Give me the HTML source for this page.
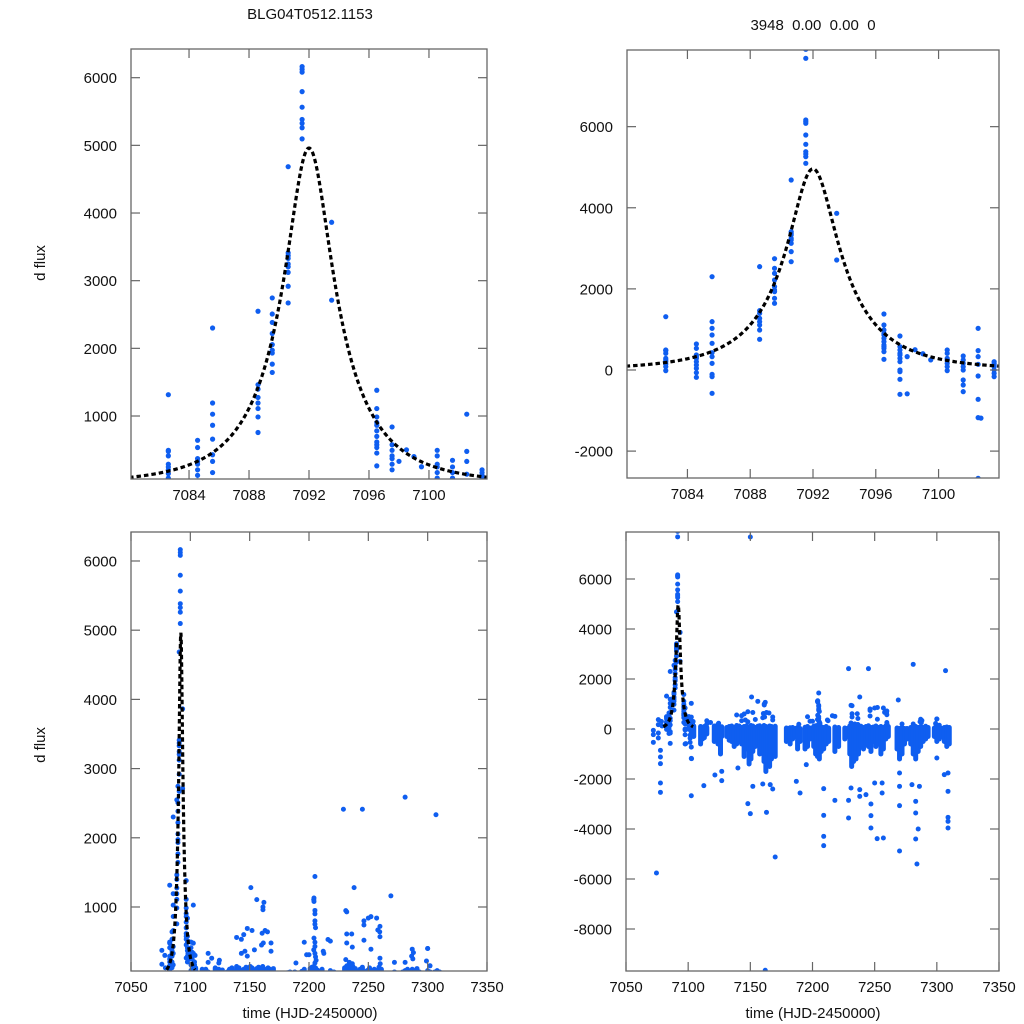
<!DOCTYPE html>
<html><head><meta charset="utf-8">
<style>
html,body{margin:0;padding:0;background:#fff;width:1024px;height:1024px;overflow:hidden;}
svg{display:block;font-family:"Liberation Sans",Arial,sans-serif;}
</style></head>
<body>
<svg id="c" width="1024" height="1024" viewBox="0 0 1024 1024" xmlns="http://www.w3.org/2000/svg">
<rect width="1024" height="1024" fill="#fff"/>
<text x="310" y="19" font-size="15" text-anchor="middle" fill="#111">BLG04T0512.1153</text>
<text x="813" y="30" font-size="15" text-anchor="middle" fill="#111" xml:space="preserve">3948  0.00  0.00  0</text>
<text x="0" y="0" font-size="15" text-anchor="middle" fill="#111" transform="translate(45,263) rotate(-90)">d flux</text>
<text x="0" y="0" font-size="15" text-anchor="middle" fill="#111" transform="translate(45,745) rotate(-90)">d flux</text>
<text x="310" y="1018" font-size="15" text-anchor="middle" fill="#111">time (HJD-2450000)</text>
<text x="813" y="1018" font-size="15" text-anchor="middle" fill="#111">time (HJD-2450000)</text>
</svg>
<script>
// ---- data ----
const peakT = [7082.62,7082.62,7082.62,7082.62,7082.62,7082.62,7082.62,7082.62,7082.62,7082.62,
7084.57,7084.57,7084.57,7084.57,7084.57,7084.57,7084.57,7084.57,7084.57,7084.57,
7085.57,7085.57,7085.57,7085.57,7085.57,7085.57,7085.57,7085.57,7085.57,7085.57,7085.57,
7088.6,7088.6,7088.6,7088.6,7088.6,7088.6,7088.6,7088.6,
7089.55,7089.55,7089.55,7089.55,7089.55,7089.55,7089.55,7089.55,7089.55,
7090.61,7090.61,7090.61,7090.61,7090.61,7090.61,7090.61,7090.61,7090.61,
7091.54,7091.54,7091.54,7091.54,7091.54,7091.54,7091.54,7091.54,7091.54,7091.54,7091.54,
7093.51,7093.51,
7096.52,7096.52,7096.52,7096.52,7096.52,7096.52,7096.52,7096.52,7096.52,7096.52,7096.52,7096.52,
7097.54,7097.54,7097.54,7097.54,7097.54,7097.54,7097.54,7097.54,7097.54,7097.54,7097.54,
7100.55,7100.55,7100.55,7100.55,7100.55,7100.55,7100.55,
7101.57,7101.57,7101.57,7101.57,7101.57,7101.57,7101.57,7101.57,
7102.52,7102.52,7102.52,7102.52,7102.52,7102.52,7102.52,7102.52,
7103.54,7103.54,7103.54,7103.54,7103.54,7103.54,7103.54];
const peakF = [1315,477,411,288,205,148,82,-16,493,247,
641,534,370,288,205,123,41,-66,-181,329,
2301,1192,1027,863,658,427,329,164,-107,-164,-575,
2548,1463,1397,1274,1192,1110,986,756,
2745,2507,2383,2219,2055,1931,1767,1644,1973,
4685,3411,3329,3247,3123,2918,2671,3370,3206,
7907,7685,6164,6082,5794,5564,5383,5260,5096,6123,5326,
3863,2712,
1381,1110,986,863,781,699,616,534,452,263,904,575,
838,575,493,411,288,205,0,-41,-230,-600,370,
493,411,288,164,82,-16,247,
345,247,164,82,0,-247,-370,-534,
1027,477,329,140,-148,-723,-1175,-2671,
205,123,82,0,-82,-164,164];
const otherT = [7072,7072,7072,7074.5,7076,7076,7076,7076,7077.7,7077.7,7077.7,7077.7,7077.7,7078.5,7079,
7098,7102.7,7112.6,7121.5,7127,7127,
7150,7151,7143,7156,7162,7165,7205,7204,7218,7229,7245,7238,7231,7250,7257,7258,7269,7281,7307,7300,
7148,7150,7140,7152,7160,7163,7166,7170,7168,7162,7166,7187,7190,7195,7209,7209,7209,7209,7218,7229,7229,7231,7238,7238,7243,7247,7247,7247,7250,7252,7257,7256,7256,7270,7270,7270,7270,7280,7283,7284,7285,7286,7283,7283,7309,7309,7309,7309,7309,7306,7300,
7161.2,7161.2,7204.2,7204.2,7205,7205,7205,7205,7205.5,7204.2,7205,7205,7204,7205,7205.5,7206,7205,
7231.8,7231.8,7236,7231.8,7236.5,7231,7234,7236.5,7232,7235,7246.3,7246.3,7252.2,7246.3,7252.2,7259.8,7259.8,7259.6,7259.8,7260,7272,
7287,7288,7286.5,7287.5,7300,7299,7302,7281,
7139,7145,7152,7160.5,7163,7148,7146,7143,7148,7154,7160,7161.5,7168,7168,
7115,7118,7104,7115,7124,7124.5,7196,7198,7200,7189,7216,7212,7212.5,
7098.5,7099,7098,7099.5];
const otherF = [-53,-227,-533,-5760,373,173,-160,-360,-853,-1120,-1387,-2160,-2533,300,120,
-587,-1187,-2267,-1840,-1693,-2067,
7680,1280,533,1107,1067,640,1440,1107,507,2413,2413,1280,947,840,840,667,1160,2587,2333,400,
-2987,-3387,-1560,-2293,-2200,-3333,-2227,-5120,-2400,-9650,-1093,-2093,-2560,-1427,-3453,-4293,-4667,-2387,-2853,-2853,-3560,-2360,-2693,-2427,-2627,-3000,-3467,-3960,-2160,-4387,-4360,-2560,-2160,-4880,-3067,-2293,-1760,-2227,-4400,-5400,-4000,-2293,-2893,-3360,-3533,-3693,-3960,-2493,-1760,-1827,-1160,
1000,960,1130,1080,950,900,800,750,700,550,490,430,380,330,280,230,190,
930,610,610,480,420,240,200,180,150,170,800,740,860,520,390,720,570,640,260,180,200,
390,340,290,250,400,220,150,200,
560,600,660,620,660,690,360,330,290,380,450,480,480,360,
330,260,300,200,190,230,490,310,310,190,530,360,330,
500,400,330,250];
const nightT  = [7104.5,7110,7111.5,7113,7115,7121,7122.5,7124,7126,7127,7131,7133,7135,7137,7139,7141,7143,7145,7147,7149,7150.5,7152,7154,7156,7157.5,7159,7161,7162.5,7164,7165.5,7167,7168.5,7170,7179,7180.5,7182,7184,7186,7188,7190,7194,7196,7198,7201,7202.5,7204,7205.5,7207,7209,7211,7213,7218,7221,7226,7228,7230,7231.5,7233,7235,7237,7239,7241,7243,7245,7247,7249,7251,7253,7255,7257,7259,7261,7268,7270,7272,7274,7276,7279,7281,7283,7285,7287,7289,7291,7293,7298,7300,7302,7304,7306,7308,7310];
const nightHi = [120,100,60,100,60,120,60,100,60,90,60,100,120,60,140,120,60,100,130,60,140,120,60,110,130,60,140,100,60,120,100,60,110,40,20,50,60,20,60,20,70,100,40,110,130,140,120,90,60,100,40,80,60,40,20,120,140,60,120,140,110,60,100,130,60,80,120,60,100,60,130,100,40,20,60,20,20,60,80,100,60,100,60,110,60,40,80,60,20,60,80,60];
const nightLo = [-300,-600,-400,-350,-200,-500,-400,-600,-1000,-300,-300,-450,-500,-700,-600,-500,-600,-1100,-800,-1400,-1200,-900,-700,-600,-1000,-800,-1300,-1700,-1000,-1500,-1200,-900,-1100,-500,-300,-600,-400,-300,-800,-500,-800,-700,-400,-700,-1000,-1100,-1200,-900,-800,-600,-500,-900,-700,-400,-300,-1000,-1500,-1300,-1200,-1000,-700,-800,-600,-700,-900,-500,-700,-600,-1000,-800,-400,-300,-800,-1200,-1000,-600,-400,-600,-1000,-1200,-900,-700,-500,-400,-300,-300,-500,-400,-300,-500,-700,-600];
// microlensing model parameters: t0, u0, tE, source flux
const modelParams = [7092.0, 0.3, 5.5, 2029];
const modelRange = [7080.0, 7104.0];

const panels = [
 {id:'top-left', l:131,r:487,t:49,b:479, x0:7080.13,x1:7103.87, y0:69,y1:6424, xt:[7084,7088,7092,7096,7100], yt:[1000,2000,3000,4000,5000,6000], dot:2.6},
 {id:'top-right', l:627,r:999,t:50,b:478, x0:7080.15,x1:7103.85, y0:-2663,y1:7890, xt:[7084,7088,7092,7096,7100], yt:[-2000,0,2000,4000,6000], dot:2.6},
 {id:'bottom-left', l:131,r:487,t:532,b:971, x0:7050,x1:7350, y0:75,y1:6419, xt:[7050,7100,7150,7200,7250,7300,7350], yt:[1000,2000,3000,4000,5000,6000], dot:2.5},
 {id:'bottom-right', l:626,r:999,t:532,b:971, x0:7050,x1:7350, y0:-9680,y1:7880, xt:[7050,7100,7150,7200,7250,7300,7350], yt:[-8000,-6000,-4000,-2000,0,2000,4000,6000], dot:2.5}
];
const NS='http://www.w3.org/2000/svg';
const svg=document.getElementById('c');
function mk(tag,attrs,parent){const e=document.createElementNS(NS,tag);for(const k in attrs)e.setAttribute(k,attrs[k]);(parent||svg).appendChild(e);return e;}
function model(t){const [t0,u0,tE,fs]=modelParams;const tau=(t-t0)/tE;const u=Math.sqrt(u0*u0+tau*tau);const A=(u*u+2)/(u*Math.sqrt(u*u+4));return fs*(A-1);}
const DOT='#0f5ef0';
panels.forEach(p=>{
  const sx=v=>p.l+(v-p.x0)/(p.x1-p.x0)*(p.r-p.l);
  const sy=v=>p.b-(v-p.y0)/(p.y1-p.y0)*(p.b-p.t);
  const g=mk('g',{});
  
  
  const cid='clip-'+p.id;
  const cp=mk('clipPath',{id:cid},g);
  mk('rect',{x:p.l,y:p.t,width:p.r-p.l,height:p.b-p.t},cp);
  const data=mk('g',{'clip-path':'url(#'+cid+')'},g);
  
  
  const d=p.dot;
  for(let i=0;i<nightT.length;i++){
    const x=sx(nightT[i]);
    let y1=sy(nightHi[i])-d, y2=sy(nightLo[i])+d;
    if(y2<p.t||y1>p.b||x<p.l-d||x>p.r+d)continue;
    y1=Math.max(y1,p.t-d); y2=Math.min(y2,p.b+d);
    const r=mk('rect',{x:x-d,y:y1,width:2*d,height:Math.max(0,y2-y1),rx:d,fill:DOT},data);
    
    
  }
  const pts=[];
  for(let i=0;i<peakT.length;i++)pts.push([peakT[i],peakF[i]]);
  for(let i=0;i<otherT.length;i++)pts.push([otherT[i],otherF[i]]);
  pts.forEach(q=>{
    const cx=sx(q[0]),cy=sy(q[1]);
    if(cx<p.l-d||cx>p.r+d||cy<p.t-d||cy>p.b+d)return;
    const c=mk('circle',{cx:cx,cy:cy,r:d,fill:DOT},data);
    
    
  });
  let dstr='';const N=400;let started=false;
  for(let i=0;i<=N;i++){
    const t=modelRange[0]+(modelRange[1]-modelRange[0])*i/N;
    const x=sx(t);if(x<p.l-2||x>p.r+2)continue;
    const y=Math.max(p.t-2,Math.min(p.b+2,sy(model(t))));
    dstr+=(started?'L':'M')+x.toFixed(2)+','+y.toFixed(2);started=true;
  }
  const path=mk('path',{d:dstr,fill:'none',stroke:'#000','stroke-width':3.2,'stroke-dasharray':'4.5,3'},data);
  
  
  const fr=mk('rect',{x:p.l,y:p.t,width:p.r-p.l,height:p.b-p.t,fill:'none',stroke:'#666','stroke-width':1.3},g);
  
  
  const TL=9;
  p.xt.forEach(v=>{
    const x=sx(v);
    mk('line',{x1:x,y1:p.b,x2:x,y2:p.b-TL,stroke:'#666','stroke-width':1.2},g);
    mk('line',{x1:x,y1:p.t,x2:x,y2:p.t+TL,stroke:'#666','stroke-width':1.2},g);
    const tx=mk('text',{x:x,y:p.b+21,'font-size':15,'text-anchor':'middle',fill:'#111'},g);
    tx.textContent=v;
    
    
  });
  p.yt.forEach(v=>{
    const y=sy(v);
    mk('line',{x1:p.l,y1:y,x2:p.l+TL,y2:y,stroke:'#666','stroke-width':1.2},g);
    mk('line',{x1:p.r,y1:y,x2:p.r-TL,y2:y,stroke:'#666','stroke-width':1.2},g);
    const tx=mk('text',{x:p.l-14,y:y+5.5,'font-size':15,'text-anchor':'end',fill:'#111'},g);
    tx.textContent=v;
    
    
  });
});
</script>
</body></html>
